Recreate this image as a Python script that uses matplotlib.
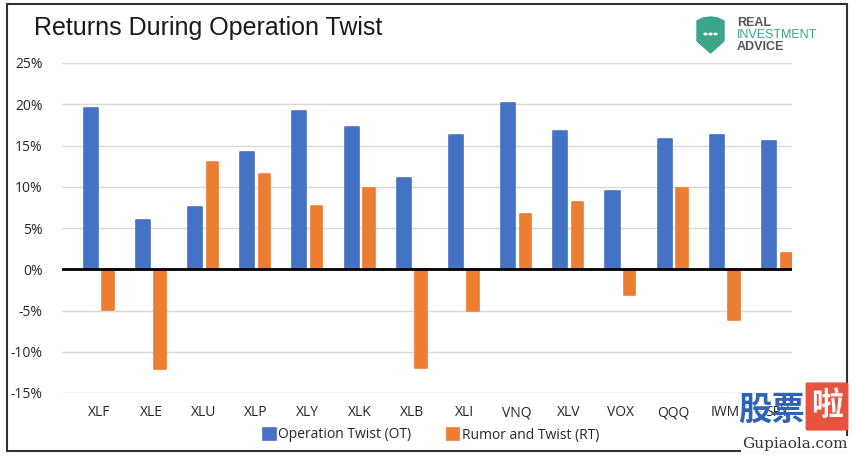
import numpy as np
import matplotlib
matplotlib.use("Agg")
from matplotlib import pyplot as plt
from matplotlib.patches import Rectangle, FancyBboxPatch, Polygon, Circle
from matplotlib.ticker import FuncFormatter

# data
tickers = ["XLF", "XLE", "XLU", "XLP", "XLY", "XLK", "XLB",
           "XLI", "VNQ", "XLV", "VOX", "QQQ", "IWM", "SPY"]
ot_returns = [19.5, 6.0, 7.5, 14.2, 19.2, 17.2, 11.1,
              16.3, 20.1, 16.8, 9.5, 15.8, 16.3, 15.6]
rt_returns = [-4.9, -12.1, 13.0, 11.5, 7.7, 9.8, -12.0,
              -5.0, 6.7, 8.1, -3.1, 9.8, -6.1, 2.0]
y_ticks = [25, 20, 15, 10, 5, 0, -5, -10, -15]

blue = "#4472C4"
orange = "#ED7D31"
txt = "#262626"

W, H = 857, 459
fig = plt.figure(figsize=(W / 100, H / 100), dpi=100)

# axes placed in pixel terms
left, right, top, bottom = 62, 792, 63, 393
ax = fig.add_axes([left / W, 1 - bottom / H, (right - left) / W, (bottom - top) / H])

x = np.arange(len(tickers))
ax.bar(x - 0.16, ot_returns, width=0.27, color=blue, edgecolor=blue,
       linewidth=1.2, joinstyle="round", zorder=3, label="Operation Twist (OT)")
ax.bar(x + 0.17, rt_returns, width=0.22, color=orange, edgecolor=orange,
       linewidth=1.2, joinstyle="round", zorder=3, label="Rumor and Twist (RT)")

ax.set_xlim(-0.71, 13.28)
ax.set_ylim(-15, 25)
ax.set_yticks(y_ticks)
ax.yaxis.set_major_formatter(FuncFormatter(lambda v, p: "%d%%" % v))
ax.grid(axis="y", color="#d9d9d9", linewidth=1, zorder=0)
ax.axhline(0, color="black", linewidth=2, zorder=4)
for s in ax.spines.values():
    s.set_visible(False)
ax.tick_params(axis="both", length=0, labelsize=10, colors=txt)
ax.tick_params(axis="y", pad=14)
ax.set_xticks(x)
ax.set_xticklabels(tickers, fontfamily="Open Sans")
ax.tick_params(axis="x", pad=9)
for lab in ax.get_yticklabels():
    lab.set_fontfamily("Open Sans")

leg = fig.legend(loc="center", bbox_to_anchor=(431 / W, 1 - 435 / H), ncol=2,
                 frameon=False, prop={"family": "Open Sans", "size": 10},
                 handlelength=0.9, handleheight=1.0, handletextpad=0.15,
                 columnspacing=2.6)
for t in leg.get_texts():
    t.set_color(txt)

# title
fig.text(34 / W, 1 - 28 / H, "Returns During Operation Twist", fontsize=18,
         fontfamily="Liberation Sans", va="center", ha="left", color="#1a1a1a")

# outer frame
fig.add_artist(Rectangle((7 / W, 1 - 451 / H), (847 - 7) / W, (451 - 4) / H,
                         transform=fig.transFigure, fill=False,
                         edgecolor="#333333", linewidth=1.5))

# logo
green = "#3aa588"
shield_pts = [[697, 21], [703, 18], [710.5, 17], [718, 18], [724, 21],
              [724, 41], [710.5, 53], [697, 41]]
shield = Polygon([[px / W, 1 - py / H] for px, py in shield_pts],
                 closed=True, transform=fig.transFigure, color=green)
fig.add_artist(shield)
for dx in (-5, 0, 5):
    fig.add_artist(Circle(((710.5 + dx) / W, 1 - 34 / H), 1.4 / W,
                          transform=fig.transFigure, color="white"))
fig.text(737 / W, 1 - 23 / H, "REAL", fontsize=9, color="#555555",
         fontweight="bold", fontfamily="Liberation Sans", va="center")
fig.text(737 / W, 1 - 35 / H, "INVESTMENT", fontsize=9, color=green,
         fontfamily="Liberation Sans", va="center")
fig.text(737 / W, 1 - 47 / H, "ADVICE", fontsize=9, color="#555555",
         fontweight="bold", fontfamily="Liberation Sans", va="center")

# watermark
fig.text(738 / W, 1 - 410 / H, "股票", fontsize=24, color="#2f63b5",
         fontfamily="Noto Sans CJK SC", fontweight="bold", va="center", zorder=10)
fig.add_artist(FancyBboxPatch((808 / W, 1 - 429 / H), 38 / W, 45 / H,
                              boxstyle="round,pad=0.002", transform=fig.transFigure,
                              color="#e8533f", zorder=10))
fig.text(827 / W, 1 - 406 / H, "啦", fontsize=23, color="white",
         fontfamily="Noto Sans CJK SC", fontweight="bold", va="center", ha="center",
         zorder=11)
fig.text(795 / W, 1 - 444 / H, "Gupiaola.com", fontsize=11, color="#333333",
         fontfamily="DejaVu Serif", va="center", ha="center", zorder=10,
         bbox=dict(facecolor="white", edgecolor="none", pad=0.5))

fig.savefig("out.png", dpi=100)
